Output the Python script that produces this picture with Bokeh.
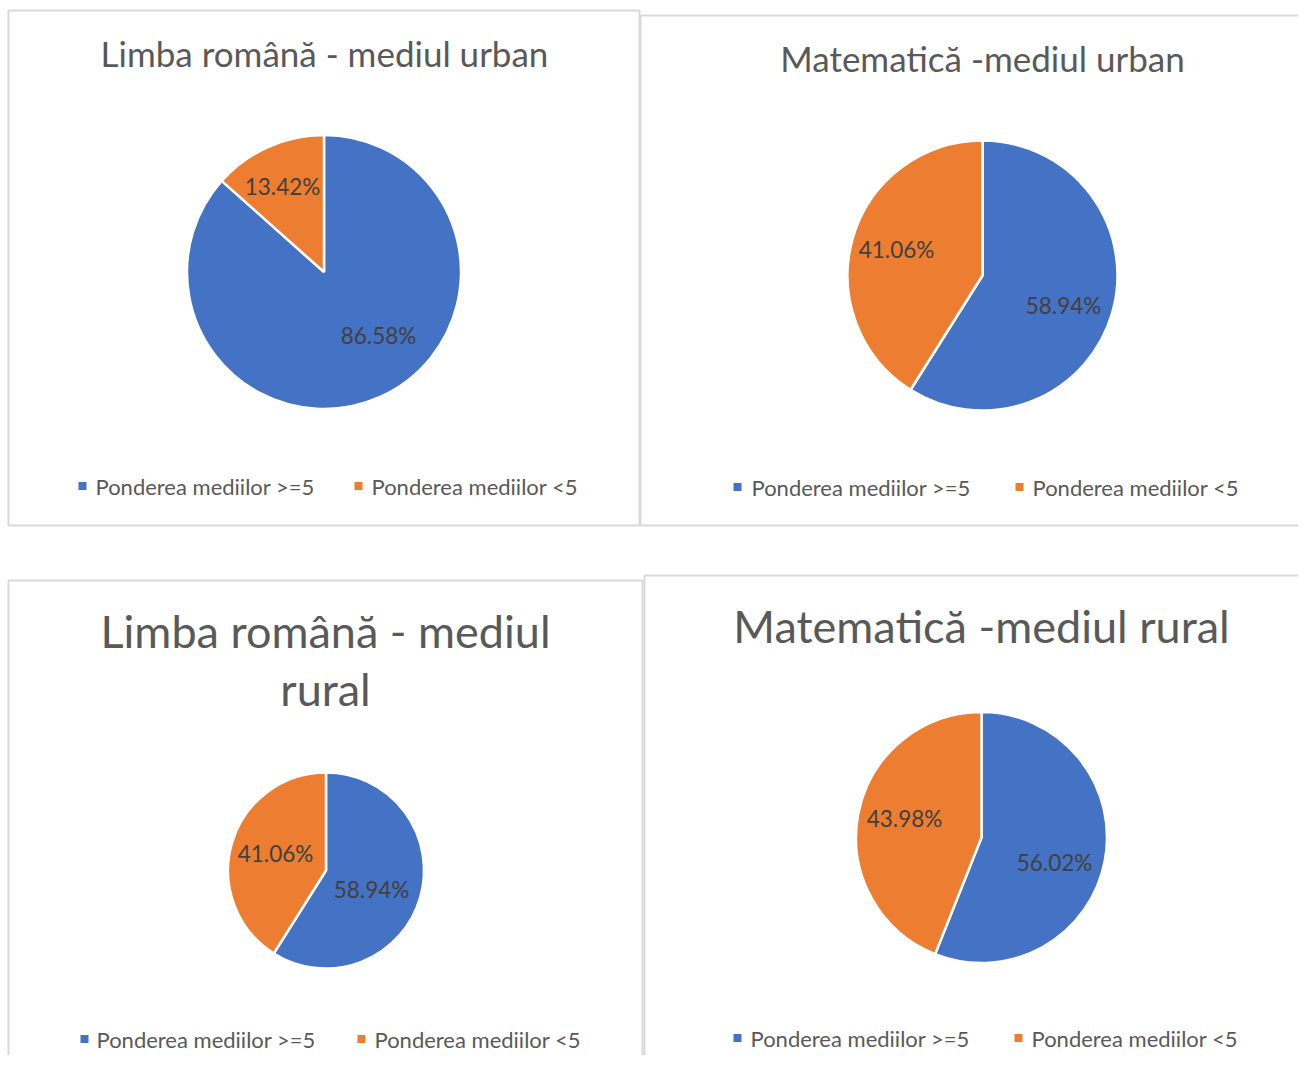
import math
from bokeh.plotting import figure
from bokeh.models import Range1d, ColumnDataSource
from bokeh.core.properties import value
from bokeh.embed import file_html
from bokeh.resources import INLINE

# ---------------- data ----------------
categories = ["Ponderea mediilor >=5", "Ponderea mediilor <5"]
colors = ["#4472C4", "#ED7D31"]

titles = [
    ["Limba română - mediul urban"],
    ["Matematică -mediul urban"],
    ["Limba română - mediul", "rural"],
    ["Matematică -mediul rural"],
]
lr_urban = [86.58, 13.42]
mat_urban = [58.94, 41.06]
lr_rural = [58.94, 41.06]
mat_rural = [56.02, 43.98]
series = [lr_urban, mat_urban, lr_rural, mat_rural]

# ---------------- layout (screen pixels) ----------------
W, H = 1298, 1055
FONT = "Lato"
TXT = "#595959"
LBL = "#404040"
BORDER = "#d9d9d9"

panels = [
    dict(box=(8, 10, 639, 525), title_x=324, title_y=[52], title_size="35px",
         cx=323.5, cy=271.5, r=137,
         lbl=[(54.5, 63.5), (-41.5, -85.5)],
         leg_y=485.5, leg_sq=[82, 358], leg_tx=[95, 371]),
    dict(box=(640, 15, 1330, 525), title_x=982, title_y=[57], title_size="35px",
         cx=982, cy=275, r=135,
         lbl=[(81, 30), (-86, -26)],
         leg_y=486.5, leg_sq=[737, 1019], leg_tx=[751, 1032]),
    dict(box=(8, 580, 642, 1090), title_x=325, title_y=[630, 688], title_size="45px",
         cx=325.5, cy=870, r=98,
         lbl=[(45.5, 19), (-50.5, -17)],
         leg_y=1038.5, leg_sq=[84, 361], leg_tx=[96, 374]),
    dict(box=(644, 575, 1330, 1090), title_x=981, title_y=[625], title_size="45px",
         cx=981, cy=837, r=125.5,
         lbl=[(73, 25), (-77, -19)],
         leg_y=1037.5, leg_sq=[737, 1018], leg_tx=[750, 1031]),
]

p = figure(width=W, height=H, output_backend="svg", toolbar_location=None,
           x_axis_type=None, y_axis_type=None, min_border=0,
           x_range=Range1d(0, W), y_range=Range1d(-H, 0))
p.outline_line_color = None
p.grid.visible = False
p.background_fill_color = "white"

for pan, vals, ttl in zip(panels, series, titles):
    l, t, r_, b = pan["box"]
    p.quad(left=[l], right=[r_], top=[-t], bottom=[-b], fill_color=None,
           line_color=BORDER, line_width=2)

    for line, ty in zip(ttl, pan["title_y"]):
        p.text(x=[pan["title_x"]], y=[-ty], text=[line], text_font=value(FONT),
               text_font_size=pan["title_size"], text_color=TXT,
               text_align="center", text_baseline="middle")

    total = sum(vals)
    starts, ends, cum = [], [], 0.0
    for v in vals:
        starts.append(math.pi / 2 - 2 * math.pi * cum / total)
        cum += v
        ends.append(math.pi / 2 - 2 * math.pi * cum / total)
    src = ColumnDataSource(dict(start=starts, end=ends, color=colors))
    cx, cy = pan["cx"], -pan["cy"]
    p.wedge(x=cx, y=cy, radius=pan["r"], start_angle="start", end_angle="end",
            direction="clock", fill_color="color", line_color="white",
            line_width=2.5, source=src)

    lx = [cx + d[0] for d in pan["lbl"]]
    ly = [cy - d[1] for d in pan["lbl"]]
    p.text(x=lx, y=ly, text=[f"{v:.2f}%" for v in vals], text_font=value(FONT),
           text_font_size="22.5px", text_color=LBL, text_align="center",
           text_baseline="middle")

    ly_leg = -pan["leg_y"]
    p.rect(x=pan["leg_sq"], y=[ly_leg, ly_leg], width=8, height=8,
           width_units="screen", height_units="screen", fill_color=colors,
           line_color=None)
    p.text(x=pan["leg_tx"], y=[ly_leg, ly_leg], text=categories,
           text_font=value(FONT), text_font_size="22px", text_color=TXT,
           text_align="left", text_baseline="middle")

open("out.html", "w").write(file_html(p, INLINE))
